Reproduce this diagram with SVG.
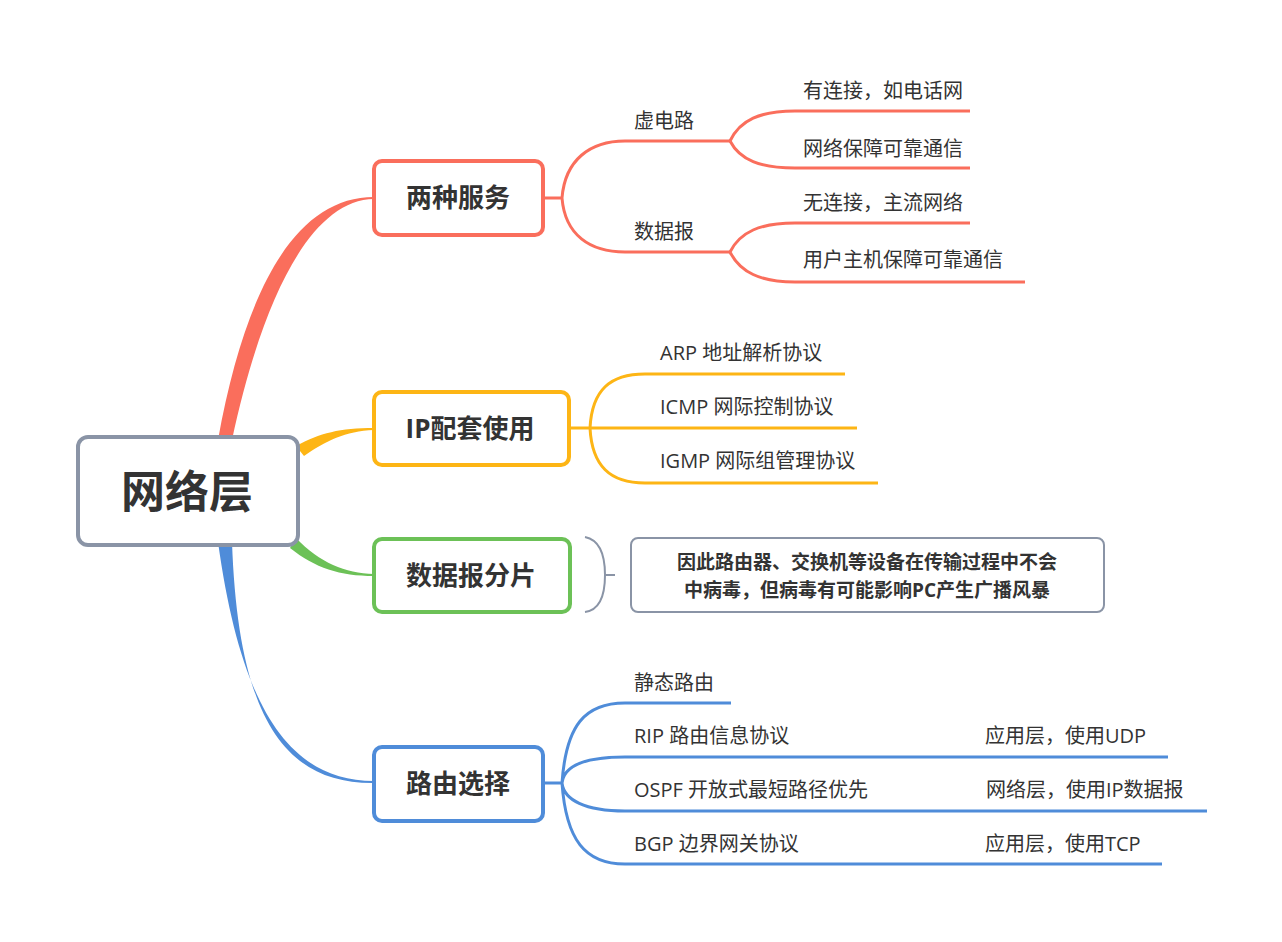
<svg xmlns="http://www.w3.org/2000/svg" width="1282" height="942" viewBox="0 0 1282 942">
<style>
text{font-family:"Open Sans","Noto Sans CJK SC",sans-serif;fill:#333}
.t{font-size:20px}
.b{font-weight:bold;font-size:26px}
.box{fill:#fff;stroke-width:4}
.ln{fill:none;stroke-width:3}
.r{stroke:#fa6e5c}.y{stroke:#fdb515}.g{stroke:#6cc157}.bl{stroke:#4f8cd9}
</style>
<rect width="1282" height="942" fill="#fff"/>
<g id="connectors">
<path d="M218,440 C245,290 295,197 374,197 L374,199 C310,200 262,300 232,440 Z" fill="#fa6e5c"/>
<path d="M296,446 C320,433 340,428 374,428 L374,430 C345,431 326,441 304,456 Z" fill="#fdb515"/>
<path d="M296,538 C320,563 345,573 374,574 L374,576 C340,576 315,568 290,548 Z" fill="#6cc157"/>
<path d="M218,542 C240,700 285,781 374,781 L374,783 C280,784 238,710 232,542 Z" fill="#4f8cd9"/>
<path class="ln r" d="M543,198 H562 M562,198 C565,160 590,141 625,141 H730 M562,198 C565,235 590,252 625,252 H730"/>
<path class="ln r" d="M730,141 C740,120 760,111 795,111 H970 M730,141 C740,160 760,168 795,168 H970 M730,252 C740,232 760,223 795,223 H970 M730,252 C740,272 760,282 795,282 H1025"/>
<path class="ln y" d="M569,428 H590 M590,428 C592,390 610,374 645,374 H845 M590,428 H857 M590,428 C592,466 610,483 645,483 H878"/>
<path class="ln bl" d="M543,783 H562 M562,783 C566,725 585,703 625,703 H731 M562,783 C564,765 585,757 625,757 H1168 M562,783 C564,800 585,811 625,811 H1207 M562,783 C566,840 585,864 625,864 H1162"/>
<path fill="none" stroke="#8a94a6" stroke-width="2" d="M585,537 C600,540 605,555 605,575 C605,595 600,610 585,612 M605,575 H615"/>
</g>
<g id="root"><rect class="box" x="78" y="437" width="220" height="108" rx="10" stroke="#8a94a6"/><text x="187" y="508" text-anchor="middle" font-size="44" font-weight="bold">网络层</text></g>
<g id="n1"><rect class="box r" x="374" y="161" width="169" height="74" rx="8"/><text class="b" x="458" y="207" text-anchor="middle">两种服务</text></g>
<g id="n2"><rect class="box y" x="374" y="392" width="195" height="73" rx="8"/><text class="b" x="470" y="438" text-anchor="middle">IP配套使用</text></g>
<g id="n3"><rect class="box g" x="374" y="539" width="196" height="73" rx="8"/><text class="b" x="471" y="585" text-anchor="middle">数据报分片</text></g>
<g id="n4"><rect class="box bl" x="374" y="747" width="169" height="74" rx="8"/><text class="b" x="458" y="793" text-anchor="middle">路由选择</text></g>
<g id="note"><rect x="631" y="538" width="473" height="74" rx="7" fill="#fff" stroke="#8a94a6" stroke-width="2"/>
<text x="867" y="569" text-anchor="middle" font-size="19" font-weight="bold">因此路由器、交换机等设备在传输过程中不会</text>
<text x="867" y="597" text-anchor="middle" font-size="19" font-weight="bold">中病毒，但病毒有可能影响PC产生广播风暴</text></g>
<g id="labels">
<text class="t" x="634" y="128">虚电路</text><text class="t" x="634" y="239">数据报</text>
<text class="t" x="803" y="98">有连接，如电话网</text><text class="t" x="803" y="156">网络保障可靠通信</text>
<text class="t" x="803" y="210">无连接，主流网络</text><text class="t" x="803" y="267">用户主机保障可靠通信</text>
<text class="t" x="660" y="360">ARP 地址解析协议</text><text class="t" x="660" y="414">ICMP 网际控制协议</text><text class="t" x="660" y="468">IGMP 网际组管理协议</text>
<text class="t" x="634" y="690">静态路由</text><text class="t" x="634" y="743">RIP 路由信息协议</text><text class="t" x="634" y="797">OSPF 开放式最短路径优先</text><text class="t" x="634" y="851">BGP 边界网关协议</text>
<text class="t" x="985" y="743">应用层，使用UDP</text><text class="t" x="986" y="797">网络层，使用IP数据报</text><text class="t" x="985" y="851">应用层，使用TCP</text>
</g>
</svg>
